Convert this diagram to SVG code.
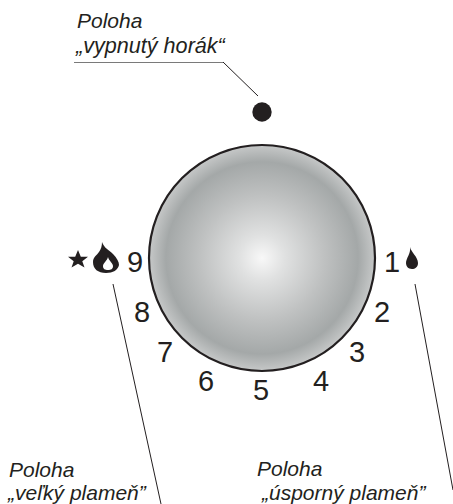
<svg xmlns="http://www.w3.org/2000/svg" width="453" height="504" viewBox="0 0 453 504">
<style>
text{font-family:"Liberation Sans",Arial,sans-serif;fill:#231f20}
.n{font-size:29px;text-anchor:middle}
.l{font-size:21px;font-style:italic}
.t{font-size:21.600px}
.c{fill:none;stroke:#231f20;stroke-width:1}
.f{fill:#231f20}
</style>
<defs>
<radialGradient id="g" cx="0.5" cy="0.5" r="0.5">
<stop offset="0" stop-color="#f8f8f8"/><stop offset="0.2" stop-color="#e0e1e1"/><stop offset="0.55" stop-color="#bfc1c1"/><stop offset="0.85" stop-color="#a4a8a8"/><stop offset="1" stop-color="#c6c8c8"/>
</radialGradient>
</defs>
<g id="connectors">
<path d="M74 62.500H223" fill="none" stroke="#7a7a7a" stroke-width="1.200"/>
<path class="c" d="M223 62L258 96"/>
<path class="c" d="M113 284L161 504"/>
<path class="c" d="M415 284L453 490"/>
</g>
<g id="knob"><circle cx="262" cy="258" r="113" fill="url(#g)" stroke="#231f20" stroke-width="2.200"/></g>
<g id="off-dot"><circle class="f" cx="262" cy="112" r="9.700"/></g>
<g id="label-off"><text class="l" x="77" y="28">Poloha</text><text class="l t" x="76" y="52.500">„vypnutý horák“</text></g>
<g id="label-big"><text class="l" x="9" y="477">Poloha</text><text class="l" x="8" y="499.500">„veľký plameň”</text></g>
<g id="label-small"><text class="l" x="257" y="476">Poloha</text><text class="l" x="262" y="499.500">„úsporný plameň”</text></g>
<g id="numbers">
<text class="n" x="392" y="272">1</text><text class="n" x="382" y="322">2</text><text class="n" x="357" y="362">3</text><text class="n" x="321" y="391">4</text><text class="n" x="261" y="400">5</text><text class="n" x="206" y="391">6</text><text class="n" x="165" y="362">7</text><text class="n" x="142" y="322">8</text><text class="n" x="135" y="272">9</text>
</g>
<g id="star"><polygon class="f" points="78,250 80.800,256.800 88,256.800 82.300,261.300 84.500,267.500 78,263.800 71.500,267.500 73.700,261.300 68,256.800 75.200,256.800"/></g>
<g id="flame-big"><path class="f" fill-rule="evenodd" d="M102 242C104 248 109 250 113 254C117 258 119 262 119 265C118 270 113 273 106 273C98 273 93 269 93 262C93 257 97 255 99 252C101 249 102 246 102 242ZM108 257C107 261 103 263 103 266C103 269 105 270 108 270C111 270 113 269 113 266C113 263 109 261 108 257Z"/></g>
<g id="flame-small"><path class="f" d="M410 247C411 252 418 257 418 263C418 267 415 269 412 269C408 269 406 266 406 263C406 258 411 254 410 247Z"/></g>
</svg>
